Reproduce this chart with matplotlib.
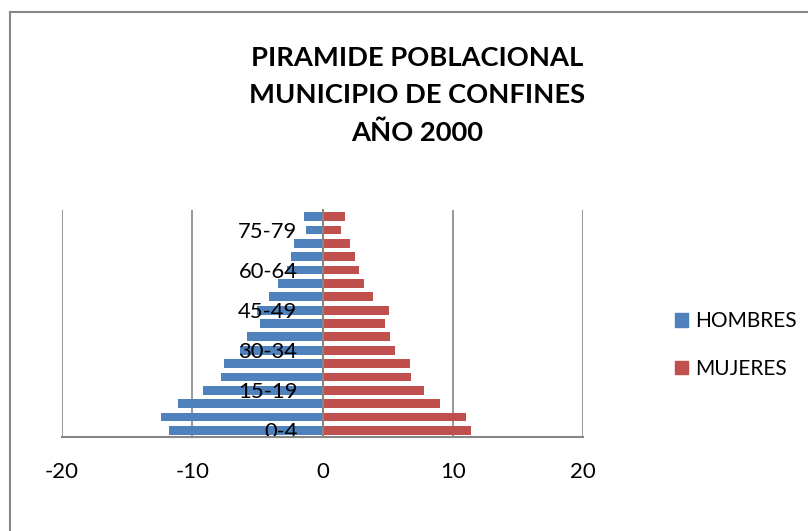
import matplotlib
matplotlib.use("Agg")
import matplotlib.pyplot as plt
from matplotlib.lines import Line2D
from matplotlib.patches import Patch

plt.rcParams['font.family'] = ['Lato', 'DejaVu Sans']

# age groups, youngest first
grupos = ['0-4', '5-9', '10-14', '15-19', '20-24', '25-29', '30-34', '35-39',
          '40-44', '45-49', '50-54', '55-59', '60-64', '65-69', '70-74',
          '75-79', '80+']
hombres = [11.8, 12.4, 11.1, 9.2, 7.8, 7.6, 6.3, 5.8, 4.8, 5.0, 4.1, 3.4,
           2.7, 2.4, 2.2, 1.3, 1.4]
mujeres = [11.4, 11.0, 9.0, 7.8, 6.8, 6.7, 5.6, 5.2, 4.8, 5.1, 3.9, 3.2,
           2.8, 2.5, 2.1, 1.4, 1.7]
xticks = [-20, -10, 0, 10, 20]

AZUL = '#4F81BD'
ROJO = '#C0504D'
GRIS = '#868686'

W, H = 808, 531
fig = plt.figure(figsize=(W / 100, H / 100), dpi=100)
ax = fig.add_axes([62 / W, 1 - 437 / H, (583 - 62) / W, (437 - 210) / H])

# category axis sits at zero (set before tick labels, it resets them)
ax.spines['left'].set_position(('data', 0))

pos = list(range(len(grupos)))
ax.barh(pos, [-v for v in hombres], height=0.66, color=AZUL, label='HOMBRES')
ax.barh(pos, mujeres, height=0.66, color=ROJO, label='MUJERES')

ax.set_xlim(-20, 20)
ax.set_ylim(-0.5, len(grupos) - 0.5)
ax.set_xticks(xticks)
ax.set_xticklabels([str(t) for t in xticks], fontsize=16)
ax.set_yticks(pos[::3])
ax.set_yticklabels(grupos[::3], fontsize=15.8)

for s in ['top', 'right']:
    ax.spines[s].set_visible(False)
for s in ['left', 'bottom']:
    ax.spines[s].set_color(GRIS)
    ax.spines[s].set_linewidth(1.5)
ax.tick_params(axis='x', length=0, pad=18)
ax.tick_params(axis='y', length=0, pad=18)

for t in [-20, -10, 10, 20]:
    ax.axvline(t, color=GRIS, lw=1.2, zorder=0)

fig.text(417 / W, 1 - 46 / H, 'PIRAMIDE POBLACIONAL\nMUNICIPIO DE CONFINES\nAÑO 2000',
         ha='center', va='top', fontsize=19.7, fontweight='bold', linespacing=1.66)

handles = [Patch(color=AZUL), Patch(color=ROJO)]
fig.legend(handles, ['HOMBRES', 'MUJERES'], loc='center left',
           bbox_to_anchor=(675 / W, 1 - 345 / H), frameon=False, fontsize=15,
           handlelength=0.6, handleheight=0.6, handletextpad=0.35, labelspacing=1.3,
           borderpad=0, borderaxespad=0)

# outer chart frame
fig.add_artist(Line2D([10 / W, 1], [1 - 12 / H, 1 - 12 / H], color=GRIS, lw=1.5))
fig.add_artist(Line2D([10 / W, 10 / W], [0, 1 - 12 / H], color=GRIS, lw=1.5))

fig.savefig('out.png', dpi=100)
